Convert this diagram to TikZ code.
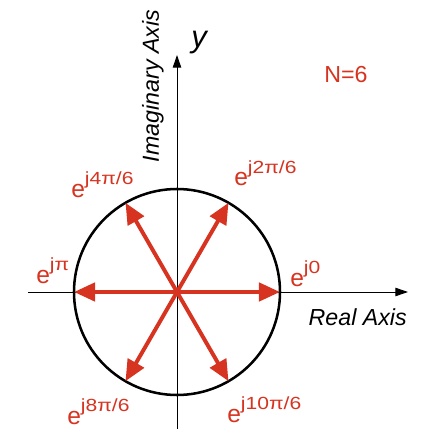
\documentclass[tikz,border=0pt]{standalone}
\usepackage{fontspec}
\usepackage{graphicx}
\setmainfont{Liberation Sans}
\usetikzlibrary{arrows.meta}
\definecolor{phasorred}{RGB}{214,52,32}
\newcommand{\phexp}[1]{e\raisebox{8.9pt}{\scalebox{1.2}[1]{\fontsize{12.5}{13}\selectfont #1}}}
\begin{document}
\begin{tikzpicture}[x=0.025cm, y=0.025cm,
        every node/.style={font=\fontsize{16.5}{19}\selectfont, inner sep=0pt},
        axis/.style={line width=0.7pt, -{Triangle[length=9pt,width=6pt]}},
        phasor/.style={phasorred, line width=2.8pt, -{Triangle[length=15pt,width=13pt]}},
        rootlbl/.style={phasorred, anchor=base west, font=\fontsize{17.5}{19}\selectfont}]
    \useasboundingbox (-177,-137) rectangle (246,292);
    \coordinate (o) at (0,0);
    \coordinate (xmin) at (-149,0); \coordinate (xmax) at (231,0);
    \coordinate (ymin) at (0,-137); \coordinate (ymax) at (0,237);
    \draw[axis] (xmin) -- (xmax);
    \draw[axis] (ymin) -- (ymax);
    \draw[line width=1.8pt] (o) circle (103);
    \foreach \k in {0,...,5} {
        \coordinate (w\k) at (60*\k:103);
        \draw[phasor] (o) -- (w\k);
    }
    % roots of unity
    \foreach \k/\x/\y/\t in {0/113/6/j0, 1/57/106/{j2π/6}, 2/-106/95/{j4π/6},
            3/-141/9/jπ, 4/-110/-132/{j8π/6}, 5/50/-130/{j10π/6}}
        \node[rootlbl] (lbl\k) at (\x,\y) {\phexp{\t}};
    \node[font=\fontsize{22}{24}\selectfont\itshape, anchor=base] (ylbl) at (22,244) {y};
    \node[rotate=90, font=\fontsize{16.5}{19}\selectfont\itshape] (imlbl) at (-24,206) {Imaginary Axis};
    \node[anchor=base east, font=\fontsize{16.5}{19}\selectfont\itshape] (relbl) at (230,-33) {Real Axis};
    \node[phasorred] (nlbl) at (169,217) {N=6};
\end{tikzpicture}
\end{document}
